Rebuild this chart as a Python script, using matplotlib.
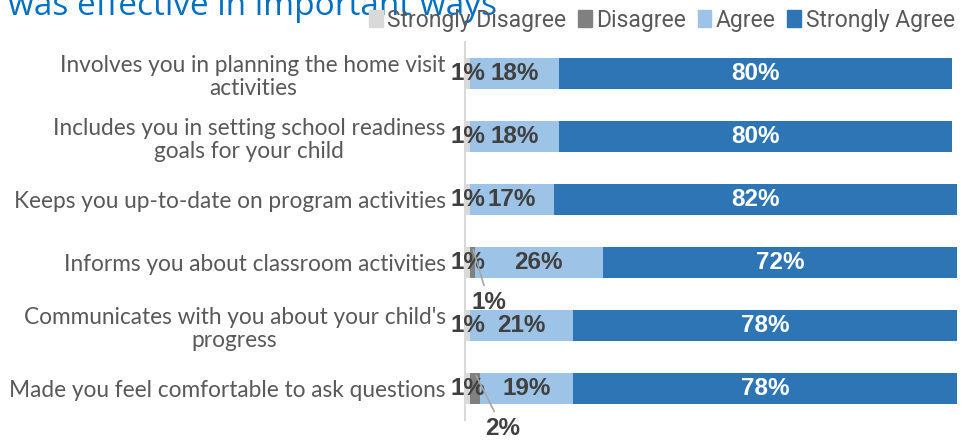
import matplotlib.pyplot as plt
from matplotlib.patches import Patch

# survey rows, top to bottom
categories = [
    "Involves you in planning the home visit\nactivities",
    "Includes you in setting school readiness\ngoals for your child",
    "Keeps you up-to-date on program activities",
    "Informs you about classroom activities",
    "Communicates with you about your child's\nprogress",
    "Made you feel comfortable to ask questions",
]
strongly_disagree = [1, 1, 1, 1, 1, 1]
disagree = [0, 0, 0, 1, 0, 2]
agree = [18, 18, 17, 26, 21, 19]
strongly_agree = [80, 80, 82, 72, 78, 78]

series = ["Strongly Disagree", "Disagree", "Agree", "Strongly Agree"]
colors = ["#D9D9D9", "#808080", "#9DC3E6", "#2E75B6"]
values = [strongly_disagree, disagree, agree, strongly_agree]

fig = plt.figure(figsize=(9.64, 4.4), dpi=100)
ax = fig.add_axes([0.4824, 0.045, 0.5104, 0.8595])

y = list(range(len(categories)))
left = [0] * len(categories)
for name, col, vals in zip(series, colors, values):
    ax.barh(y, vals, left=left, height=0.5, color=col, label=name)
    for i, v in enumerate(vals):
        cx = left[i] + v / 2
        if v == 0:
            pass
        elif name == "Disagree":
            # small slice: label below with a leader line
            ax.annotate(f"{v}%", xy=(cx, i - 0.25), xytext=(12 + 8 * (v - 1), -40),
                        textcoords="offset points", ha="center", va="center",
                        fontsize=17.5, fontweight="bold", color="#404040",
                        family="Liberation Sans",
                        arrowprops=dict(arrowstyle="-", color="#A6A6A6", lw=1.2))
        else:
            tc = "white" if name == "Strongly Agree" else "#404040"
            ax.text(cx, i, f"{v}%", ha="center", va="center", fontsize=17.5,
                    fontweight="bold", color=tc, family="Liberation Sans")
    left = [a + b for a, b in zip(left, vals)]

ax.set_xlim(0, 100)
ax.set_ylim(len(categories) - 0.5, -0.5)
ax.set_yticks(y)
ax.set_yticklabels(categories, fontsize=16.3, color="#595959", family="Lato",
                   ma="center", linespacing=1.12)
ax.tick_params(axis="y", length=0, pad=14)
ax.set_xticks([])
for s in ["top", "right", "bottom"]:
    ax.spines[s].set_visible(False)
ax.spines["left"].set_color("#D9D9D9")
ax.spines["left"].set_linewidth(1.5)

handles = [Patch(color=c, label=n) for n, c in zip(series, colors)]
fig.legend(handles=handles, loc="center right", bbox_to_anchor=(1.0, 1 - 20 / 440),
           ncol=4, frameon=False, handlelength=0.6, handleheight=0.8,
           handletextpad=0.2, columnspacing=0.5, borderaxespad=0,
           labelcolor="#595959", prop={"family": "Roboto", "size": 16.5})

fig.text(0.008, 1 - 15 / 440, "was effective in important ways", color="#0070C0",
         fontsize=24, family="Open Sans", va="baseline", ha="left")

fig.savefig("out.png", dpi=100)
